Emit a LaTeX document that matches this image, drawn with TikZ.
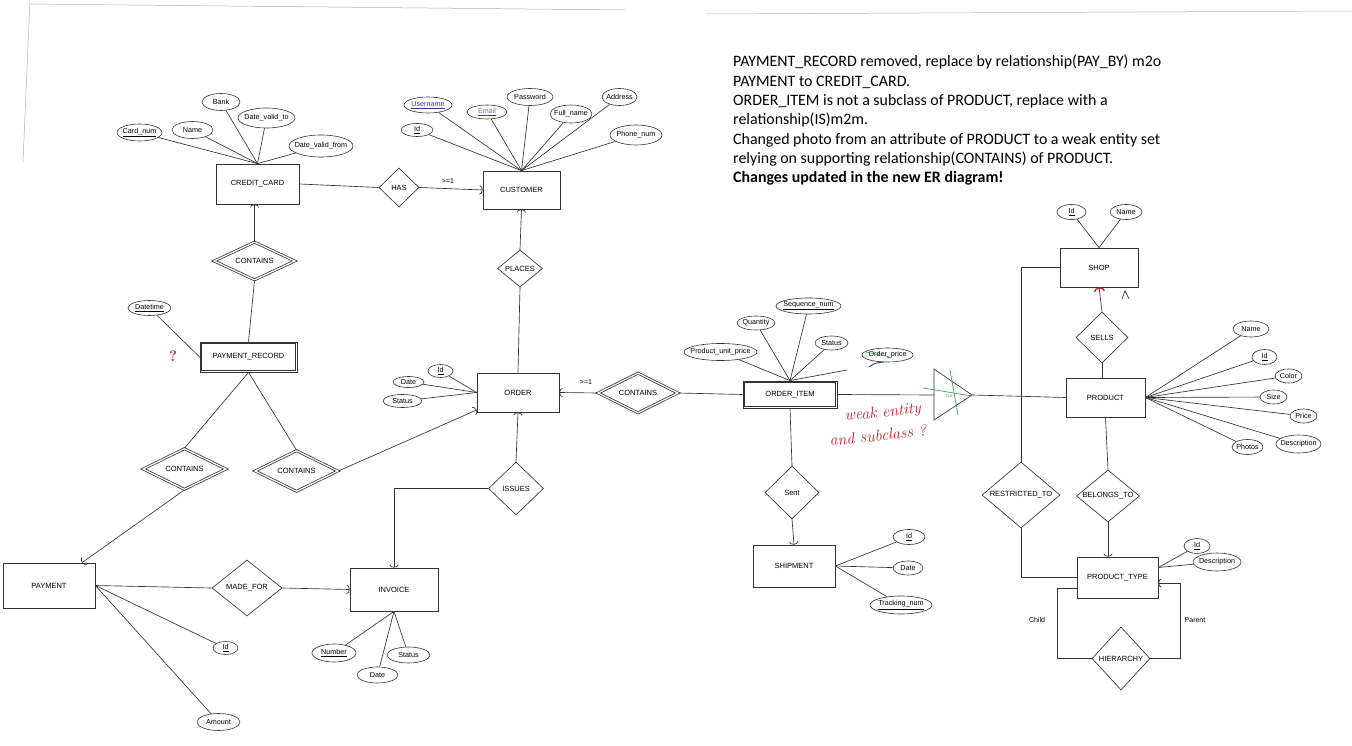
\documentclass[tikz,border=0pt]{standalone}
\usepackage{fontspec}
\newfontfamily\lab{Liberation Sans}
\newfontfamily\notefont{Carlito}
\usetikzlibrary{shapes.geometric,arrows.meta,calc}
\definecolor{ink}{RGB}{50,50,50}
\definecolor{redink}{RGB}{200,30,45}
\definecolor{greenink}{RGB}{60,160,90}
\definecolor{blueink}{RGB}{40,60,150}
\newcommand\zb[1]{\makebox[0pt]{#1}}
\begin{document}
\begin{tikzpicture}[x=1pt,y=-1pt,
  sz/.style 2 args={minimum width=#1, minimum height=#2},
  ln/.style={draw=ink, line width=0.65pt},
  ent/.style={draw=ink, line width=0.75pt, rectangle, inner sep=0pt, font=\lab\fontsize{7.5}{8}\selectfont},
  attr/.style={draw=ink, line width=0.6pt, ellipse, inner sep=0pt, font=\lab\fontsize{7.2}{8}\selectfont},
  rel/.style={draw=ink, line width=0.65pt, diamond, inner sep=0pt, font=\lab\fontsize{7.5}{8}\selectfont},
  wrel/.style={rel, double=white, double distance=1.3pt, line width=0.75pt},
  card/.style={-{Arc Barb[length=3pt,width=9pt]}},
  lbl/.style={inner sep=0pt, font=\lab\fontsize{7}{8}\selectfont},
  note/.style={anchor=base west, inner sep=0pt, font=\notefont\fontsize{15.9}{18}\selectfont},
  hand/.style={inner sep=0pt, text=redink, font=\itshape\fontsize{16}{17}\selectfont},
]
\fill[white] (0,0) rectangle (1352,746);
\useasboundingbox (0,0) rectangle (1352,746);

% scan edges
\draw[black!30, line width=0.5pt] (30,0) -- (23,162);
\draw[black!30, line width=0.5pt] (30,4) -- (625,10);
\draw[black!30, line width=0.5pt] (705,14) -- (1352,11);

% ---------- entities ----------
\node[ent, sz={83}{40}] (cc) at (257.5,184) {CREDIT\_CARD};
\node[ent, sz={77}{38}] (cust) at (521.5,190) {CUSTOMER};
\node[ent, sz={97}{30}] (pr) at (248.5,357) {PAYMENT\_RECORD};
\draw[ink, line width=0.75pt] ([shift={(2.2pt,-2.2pt)}]pr.north west) rectangle ([shift={(-2.2pt,2.2pt)}]pr.south east);
\node[ent, sz={82}{39}] (ord) at (518,392.5) {ORDER};
\node[ent, sz={94}{27}] (oi) at (790,394.5) {ORDER\_ITEM};
\draw[ink, line width=0.75pt] ([shift={(2.2pt,-2.2pt)}]oi.north west) rectangle ([shift={(-2.2pt,2.2pt)}]oi.south east);
\node[ent, sz={78}{39}] (shop) at (1099,267.5) {SHOP};
\node[ent, sz={79}{39}] (prod) at (1105.5,397.5) {PRODUCT};
\node[ent, sz={82}{42}] (ship) at (794,566) {SHIPMENT};
\node[ent, sz={81}{41}] (ptype) at (1117.5,577.5) {PRODUCT\_TYPE};
\node[ent, sz={92}{45}] (pay) at (49,585.5) {PAYMENT};
\node[ent, sz={88}{43}] (inv) at (394,589.5) {INVOICE};

% ---------- relationships ----------
\node[rel, sz={40}{39}] (has) at (399,187.5) {\zb{HAS}};
\node[wrel, sz={81}{38}] (cont1) at (254.5,261) {\zb{CONTAINS}};
\node[rel, sz={45}{37}] (places) at (520,268.5) {\zb{PLACES}};
\node[wrel, sz={80}{40}] (cont2) at (638,393) {\zb{CONTAINS}};
\node[rel, sz={55}{53}] (issues) at (516,488.5) {\zb{ISSUES}};
\node[wrel, sz={83}{41}] (cont3) at (184.5,469) {\zb{CONTAINS}};
\node[wrel, sz={83}{41}] (cont4) at (296.5,471) {\zb{CONTAINS}};
\node[rel, sz={70}{56}] (madefor) at (247,588) {\zb{MADE\_FOR}};
\node[rel, sz={54}{53}] (sent) at (792,492.5) {\zb{Sent}};
\node[rel, sz={52}{51}] (sells) at (1102,337.5) {\zb{SELLS}};
\node[rel, sz={78}{66}] (restr) at (1021,495) {\zb{RESTRICTED\_TO}};
\node[rel, sz={63}{52}] (belongs) at (1108,496) {\zb{BELONGS\_TO}};
\node[rel, sz={58}{63}] (hier) at (1121,658.5) {\zb{HIERARCHY}};

% ISA triangle
\coordinate (isaL) at (934,395);
\coordinate (isaT) at (972,395);
\draw[ln] (934,369) -- (isaT) -- (934,420) -- cycle;
\node[lbl, text=black!50, font=\lab\fontsize{4.5}{5}\selectfont] (isatext) at (949,396) {Isa};
\draw[greenink, line width=0.7pt] (923,388) -- (972,396);
\draw[greenink, line width=0.7pt] (950,370) -- (958,415);

% ---------- attributes ----------
\node[attr, sz={45}{17}] (cardnum) at (139.5,132.5) {\zb{\underline{Card\_num}}};
\node[attr, sz={41}{17}] (ccname) at (192.5,130) {\zb{Name}};
\node[attr, sz={38}{17}] (bank) at (221,102) {\zb{Bank}};
\node[attr, sz={57}{20}] (dvt) at (266.5,118) {\zb{Date\_valid\_to}};
\node[attr, sz={64}{22}] (dvf) at (321,146) {\zb{Date\_valid\_from}};

\node[attr, sz={48}{16}] (uname) at (428,105) {\zb{\textcolor{blueink}{\underline{Username}}}};
\node[attr, sz={40}{14}] (email) at (487,112) {\zb{{\color{blueink}\underline{\textcolor{black!55}{Email}}}}};
\node[attr, sz={46}{17}] (pass) at (530,97) {\zb{Password}};
\node[attr, sz={42}{18}] (fname) at (571,114) {\zb{Full\_name}};
\node[attr, sz={35}{17}] (addr) at (619.5,97) {\zb{Address}};
\node[attr, sz={52}{20}] (phone) at (636,135) {\zb{Phone\_num}};
\node[attr, sz={32}{13}] (cid) at (417,130) {\zb{\underline{Id}}};

\node[attr, sz={43}{15}] (dtime) at (149.5,308) {\zb{\underline{Datetime}}};

\node[attr, sz={25}{13}] (oid) at (440.5,371) {\zb{\underline{Id}}};
\node[attr, sz={31}{11}] (odate) at (408.5,382) {\zb{Date}};
\node[attr, sz={39}{13}] (ostatus) at (402.5,401) {\zb{Status}};

\node[attr, sz={65}{16}] (seq) at (808.5,306) {\zb{\underline{Sequence\_num}}};
\node[attr, sz={38}{14}] (qty) at (756,323) {\zb{Quantity}};
\node[attr, sz={73}{17}] (pup) at (720.5,352) {\zb{Product\_unit\_price}};
\node[attr, sz={33}{14}] (ois) at (831.5,343) {\zb{Status}};
\node[attr, sz={51}{14}] (oprice) at (887.5,355) {\zb{Order\_price}};
\coordinate (opend) at (847,370);
\draw[greenink, line width=0.7pt] (866,352) -- (890,357);
\draw[ink, line width=0.8pt] (869,367) .. controls (875,363) .. (884,362);

\node[attr, sz={32}{15}] (sid) at (909,537) {\zb{\underline{Id}}};
\node[attr, sz={30}{14}] (sdate) at (908,568) {\zb{Date}};
\node[attr, sz={62}{18}] (track) at (901,605) {\zb{\underline{Tracking\_num}}};

\node[attr, sz={29}{15}] (shid) at (1071.5,212) {\zb{\underline{Id}}};
\node[attr, sz={32}{15}] (shname) at (1126,212) {\zb{Name}};

\node[attr, sz={36}{16}] (pname) at (1251,329) {\zb{Name}};
\node[attr, sz={25}{15}] (pid) at (1264.5,357) {\zb{\underline{Id}}};
\node[attr, sz={27}{14}] (pcolor) at (1288.5,376) {\zb{Color}};
\node[attr, sz={27}{14}] (psize) at (1273.5,397) {\zb{Size}};
\node[attr, sz={27}{14}] (pprice) at (1303.5,416) {\zb{Price}};
\node[attr, sz={45}{18}] (pdesc) at (1298.5,444) {\zb{Description}};
\node[attr, sz={31}{15}] (pphotos) at (1247.5,447) {\zb{Photos}};

\node[attr, sz={26}{15}] (ptid) at (1197,546) {\zb{\underline{Id}}};
\node[attr, sz={48}{18}] (ptdesc) at (1217,562) {\zb{Description}};

\node[attr, sz={25}{13}] (payid) at (225.5,648) {\zb{\underline{Id}}};
\node[attr, sz={43}{17}] (amount) at (218.5,722) {\zb{Amount}};

\node[attr, sz={44}{18}] (number) at (334,653) {\zb{\underline{Number}}};
\node[attr, sz={41}{16}] (idate) at (377.5,675) {\zb{Date}};
\node[attr, sz={43}{16}] (istatus) at (408.5,655) {\zb{Status}};

% ---------- attribute lines ----------
\foreach \a in {cardnum,ccname,bank,dvt,dvf} \draw[ln] (\a) -- (cc.north);
\foreach \a in {uname,email,pass,fname,addr,phone,cid} \draw[ln] (\a) -- (cust.north);
\draw[ln] (dtime) -- (pr.west);
\foreach \a in {oid,odate,ostatus} \draw[ln] (\a) -- (ord.west);
\foreach \a in {seq,qty,pup,ois} \draw[ln] (\a) -- (oi.north);
\draw[ln] (oi.north) -- (opend);
\foreach \a in {sid,sdate,track} \draw[ln] (\a) -- (ship.east);
\foreach \a in {shid,shname} \draw[ln] (\a) -- (shop.north);
\foreach \a in {pname,pid,pcolor,psize,pprice,pdesc,pphotos} \draw[ln] (\a) -- (prod.east);
\foreach \a in {ptid,ptdesc} \draw[ln] (\a) -- ([yshift=10pt]ptype.east);
\foreach \a in {payid,amount} \draw[ln] (\a) -- (pay.east);
\foreach \a in {number,idate,istatus} \draw[ln] (\a) -- (inv.south);

% ---------- relationship lines ----------
\draw[ln, card] (cont1.north) -- (cont1.north |- cc.south);
\draw[ln] (cc.east) -- (has.west);
\draw[ln, card] (has.east) -- (cust.west);
\node[lbl] (c1) at (448,181) {>=1};
\draw[ln, card] (places.north) -- (cust.south);
\draw[ln] (places.south) -- (ord.north);
\draw[ln] (cont1.south) -- (pr.north);
\draw[ln] (pr.south) -- (cont3.north);
\draw[ln] (pr.south) -- (cont4.north);
\draw[ln, card] (cont3.south) -- ([xshift=33pt]pay.north);
\draw[ln, card] (cont4.east) -- ([yshift=-17.5pt]ord.west);
\draw[ln, card] (cont2.west) -- (ord.east);
\node[lbl] (c2) at (586,382) {>=1};
\draw[ln] (cont2.east) -- (oi.west);
\draw[ln, card] (issues.north) -- (ord.south);
\draw[ln, card] (issues.west) -| (inv.north);
\draw[ln] (pay.east) -- (madefor.west);
\draw[ln, card] (madefor.east) -- (inv.west);
\draw[ln] (oi.south) -- (sent.north);
\draw[ln, card] (sent.south) -- (ship.north);
\draw[ln] (oi.east) -- (isaL);
\draw[ln] (isaT) -- (prod.west);
\draw[ln, -{Arc Barb[length=4pt,width=11pt,color=redink,line width=1.4pt]}] (sells.north) -- (shop.south);
\draw[ln] (1122,299) -- (1125,291) -- (1129,299);
\draw[ln] (sells.south) -- (sells.south |- prod.north);
\draw[ln] (shop.west) -| (restr.north);
\draw[ln] (prod.south) -- (belongs.north);
\draw[ln, card] (belongs.south) -- (belongs.south |- ptype.north);
\draw[ln] (restr.south) |- (ptype.west);
\draw[ln] (hier.west) -| ([xshift=-19pt,yshift=-10.5pt]ptype.west) -- ([yshift=-10.5pt]ptype.west);
\draw[ln, card] (hier.east) -| ([xshift=22pt,yshift=-5.5pt]ptype.east) -- ([yshift=-5.5pt]ptype.east);
\node[lbl] (child) at (1037,620) {Child};
\node[lbl] (parent) at (1195,620) {Parent};

% ---------- red annotations ----------
\node[inner sep=0pt, text=redink, font=\bfseries\fontsize{15}{15}\selectfont] (q1) at (173,356) {?};
\node[hand, anchor=base west, rotate=6] (h1) at (845,421) {weak entity};
\node[hand, anchor=base west, rotate=6] (h2) at (830,446) {and subclass ?};

% ---------- note ----------
\node[note] (n1) at (733,67) {PAYMENT\_RECORD removed, replace by relationship(PAY\_BY) m2o};
\node[note] (n2) at (733,86.3) {PAYMENT to CREDIT\_CARD.};
\node[note] (n3) at (733,105.6) {ORDER\_ITEM is not a subclass of PRODUCT, replace with a};
\node[note] (n4) at (733,124.9) {relationship(IS)m2m.};
\node[note] (n5) at (733,144.2) {Changed photo from an attribute of PRODUCT to a weak entity set};
\node[note] (n6) at (733,163.5) {relying on supporting relationship(CONTAINS) of PRODUCT.};
\node[note] (n7) at (733,182.8) {\bfseries Changes updated in the new ER diagram!};
\end{tikzpicture}
\end{document}
